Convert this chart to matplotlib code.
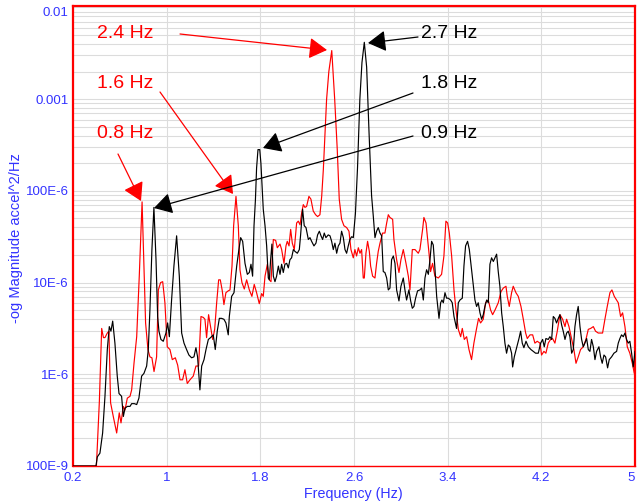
import numpy as np
import matplotlib
matplotlib.use("Agg")
import matplotlib.pyplot as plt
from matplotlib.ticker import LogLocator, NullFormatter

# ---------------- data ----------------
# frequency in Hz, log10 of PSD magnitude (accel^2/Hz)
red_freq = [0.20, 0.40, 0.425, 0.445, 0.46, 0.473, 0.493, 0.507, 0.521, 0.544, 0.573, 0.595, 0.610,
            0.630, 0.644, 0.664, 0.687, 0.701, 0.721, 0.744, 0.766, 0.790, 0.803, 0.820, 0.840, 0.857,
            0.874, 0.892, 0.914, 0.929, 0.948, 0.966, 0.985, 1.005, 1.028, 1.048, 1.074, 1.094, 1.114,
            1.136, 1.156, 1.176, 1.199, 1.227, 1.250, 1.273, 1.293, 1.313, 1.327, 1.341, 1.358, 1.375,
            1.393, 1.410, 1.427, 1.444, 1.458, 1.475, 1.489, 1.506, 1.526, 1.541, 1.558, 1.572, 1.592,
            1.612, 1.626, 1.643, 1.663, 1.683, 1.706, 1.728, 1.748, 1.768, 1.791, 1.811, 1.825, 1.840,
            1.860, 1.877, 1.891, 1.911, 1.931, 1.945, 1.968, 1.982, 2.002, 2.019, 2.030, 2.045, 2.059,
            2.073, 2.090, 2.110, 2.124, 2.139, 2.153, 2.167, 2.181, 2.195, 2.215, 2.232, 2.252, 2.272,
            2.289, 2.309, 2.324, 2.338, 2.366, 2.385, 2.410, 2.435, 2.457, 2.474, 2.494, 2.514, 2.537,
            2.557, 2.574, 2.594, 2.608, 2.622, 2.637, 2.651, 2.665, 2.679, 2.688, 2.702, 2.716, 2.731,
            2.742, 2.759, 2.779, 2.793, 2.807, 2.822, 2.844, 2.864, 2.879, 2.893, 2.907, 2.930, 2.941,
            2.964, 2.984, 3.001, 3.021, 3.044, 3.064, 3.078, 3.098, 3.121, 3.149, 3.163, 3.186, 3.197,
            3.215, 3.226, 3.243, 3.254, 3.271, 3.291, 3.320, 3.348, 3.368, 3.385, 3.400, 3.414, 3.434,
            3.454, 3.471, 3.491, 3.511, 3.525, 3.542, 3.562, 3.582, 3.604, 3.624, 3.647, 3.664, 3.681,
            3.704, 3.724, 3.747, 3.767, 3.784, 3.804, 3.832, 3.855, 3.875, 3.898, 3.909, 3.926, 3.946,
            3.960, 3.983, 4.003, 4.026, 4.046, 4.066, 4.080, 4.103, 4.126, 4.145, 4.165, 4.188, 4.202,
            4.222, 4.239, 4.259, 4.279, 4.296, 4.316, 4.336, 4.359, 4.382, 4.402, 4.416, 4.436, 4.459,
            4.478, 4.496, 4.515, 4.535, 4.558, 4.581, 4.601, 4.621, 4.644, 4.663, 4.686, 4.706, 4.723,
            4.743, 4.763, 4.786, 4.803, 4.823, 4.843, 4.857, 4.877, 4.894, 4.914, 4.934, 4.956, 4.977,
            4.994, 5.00]
red_log = [-7.0, -7.0, -6.30, -5.50, -5.60, -5.60, -5.55, -5.53, -6.31, -6.46, -6.64, -6.42, -6.53,
           -6.35, -6.39, -6.26, -6.24, -6.17, -5.88, -5.59, -4.93, -4.12, -4.71, -5.44, -5.73, -5.81,
           -5.82, -5.97, -5.81, -5.08, -5.00, -4.99, -5.22, -5.70, -5.73, -5.84, -5.82, -5.90, -6.06,
           -6.06, -5.95, -6.10, -6.06, -6.02, -5.91, -5.91, -5.37, -5.38, -5.40, -5.60, -5.35, -5.48,
           -5.62, -5.51, -5.22, -4.97, -4.97, -5.09, -5.24, -5.11, -5.09, -5.08, -4.82, -4.38, -4.06,
           -4.38, -4.86, -5.00, -5.07, -4.97, -5.08, -5.15, -5.02, -5.11, -5.23, -5.12, -5.15, -4.93,
           -4.80, -4.97, -4.99, -4.53, -4.54, -4.62, -4.58, -4.64, -4.79, -4.60, -4.55, -4.60, -4.42,
           -4.57, -4.64, -4.35, -4.33, -4.37, -4.24, -4.15, -4.18, -4.17, -4.06, -4.09, -4.22, -4.26,
           -4.28, -4.26, -4.06, -3.77, -3.00, -2.70, -2.47, -3.00, -3.55, -4.09, -4.31, -4.38, -4.40,
           -4.44, -4.64, -4.73, -4.64, -4.71, -4.62, -4.68, -4.64, -4.95, -4.95, -4.68, -4.55, -4.66,
           -4.82, -4.93, -4.95, -4.79, -4.66, -4.57, -4.46, -4.46, -4.35, -4.26, -4.29, -4.31, -4.53,
           -4.75, -4.89, -4.75, -4.64, -4.79, -4.93, -5.08, -4.64, -4.64, -4.68, -4.64, -4.42, -4.29,
           -4.35, -4.49, -4.71, -4.88, -4.79, -4.93, -4.95, -4.91, -4.71, -4.33, -4.35, -4.46, -4.71,
           -5.08, -5.30, -5.51, -5.59, -5.50, -5.62, -5.59, -5.73, -5.84, -5.66, -5.50, -5.39, -5.44,
           -5.40, -5.22, -5.19, -5.30, -5.35, -5.30, -5.22, -5.10, -5.06, -5.04, -5.15, -5.26, -5.11,
           -5.04, -5.11, -5.15, -5.26, -5.40, -5.55, -5.61, -5.57, -5.57, -5.66, -5.64, -5.66, -5.79,
           -5.75, -5.77, -5.66, -5.62, -5.61, -5.66, -5.53, -5.35, -5.40, -5.48, -5.40, -5.48, -5.62,
           -5.73, -5.88, -5.81, -5.73, -5.70, -5.62, -5.51, -5.50, -5.48, -5.53, -5.55, -5.55, -5.55,
           -5.40, -5.26, -5.11, -5.08, -5.15, -5.19, -5.22, -5.37, -5.33, -5.48, -5.70, -5.77, -5.88,
           -5.99, -5.95]

black_freq = [0.20, 0.396, 0.408, 0.430, 0.453, 0.473, 0.493, 0.510, 0.524, 0.539, 0.558, 0.578, 0.593,
              0.615, 0.630, 0.644, 0.664, 0.687, 0.701, 0.724, 0.744, 0.763, 0.786, 0.806, 0.829, 0.843,
              0.857, 0.874, 0.891, 0.909, 0.923, 0.934, 0.951, 0.971, 0.994, 1.008, 1.023, 1.042, 1.062,
              1.085, 1.108, 1.128, 1.148, 1.170, 1.190, 1.213, 1.233, 1.250, 1.264, 1.284, 1.299, 1.319,
              1.336, 1.356, 1.375, 1.398, 1.415, 1.432, 1.450, 1.469, 1.489, 1.506, 1.526, 1.535, 1.555,
              1.575, 1.598, 1.617, 1.632, 1.649, 1.669, 1.689, 1.706, 1.720, 1.734, 1.746, 1.758, 1.768,
              1.780, 1.795, 1.805, 1.815, 1.825, 1.840, 1.854, 1.868, 1.877, 1.888, 1.899, 1.911, 1.925,
              1.939, 1.954, 1.968, 1.982, 1.996, 2.010, 2.025, 2.039, 2.053, 2.067, 2.082, 2.096, 2.116,
              2.133, 2.144, 2.161, 2.175, 2.190, 2.210, 2.224, 2.238, 2.258, 2.275, 2.289, 2.304, 2.318,
              2.332, 2.346, 2.360, 2.380, 2.395, 2.409, 2.423, 2.437, 2.452, 2.466, 2.480, 2.494, 2.509,
              2.523, 2.537, 2.551, 2.565, 2.580, 2.594, 2.612, 2.630, 2.650, 2.668, 2.688, 2.708, 2.728,
              2.750, 2.765, 2.779, 2.793, 2.807, 2.822, 2.836, 2.850, 2.864, 2.879, 2.893, 2.907, 2.921,
              2.936, 2.950, 2.964, 2.984, 3.001, 3.021, 3.035, 3.049, 3.069, 3.084, 3.098, 3.112, 3.126,
              3.143, 3.163, 3.178, 3.192, 3.206, 3.220, 3.235, 3.249, 3.263, 3.277, 3.291, 3.306, 3.326,
              3.340, 3.351, 3.363, 3.377, 3.391, 3.405, 3.425, 3.439, 3.454, 3.476, 3.491, 3.505, 3.525,
              3.539, 3.553, 3.570, 3.585, 3.604, 3.619, 3.633, 3.647, 3.661, 3.676, 3.690, 3.704, 3.718,
              3.733, 3.747, 3.761, 3.775, 3.790, 3.804, 3.818, 3.832, 3.846, 3.861, 3.875, 3.889, 3.903,
              3.918, 3.932, 3.946, 3.955, 3.969, 3.989, 4.009, 4.023, 4.037, 4.051, 4.069, 4.089, 4.111,
              4.131, 4.151, 4.174, 4.194, 4.211, 4.225, 4.239, 4.259, 4.273, 4.288, 4.302, 4.316, 4.330,
              4.345, 4.359, 4.373, 4.387, 4.402, 4.416, 4.430, 4.444, 4.459, 4.473, 4.487, 4.501, 4.515,
              4.530, 4.544, 4.558, 4.572, 4.587, 4.601, 4.615, 4.629, 4.644, 4.658, 4.672, 4.692, 4.706,
              4.720, 4.735, 4.749, 4.766, 4.780, 4.800, 4.820, 4.843, 4.857, 4.871, 4.885, 4.900, 4.914,
              4.928, 4.942, 4.956, 4.971, 4.985, 5.00]
black_log = [-7.0, -7.0, -6.90, -6.86, -6.64, -6.24, -5.73, -5.48, -5.53, -5.42, -5.66, -6.02, -6.21,
             -6.24, -6.46, -6.37, -6.35, -6.35, -6.32, -6.32, -6.33, -6.26, -6.02, -5.99, -5.91, -5.73,
             -5.30, -4.64, -4.18, -4.75, -5.37, -5.53, -5.62, -5.64, -5.55, -5.44, -5.59, -5.19, -4.82,
             -4.49, -4.93, -5.55, -5.66, -5.73, -5.79, -5.82, -5.81, -5.71, -5.81, -6.17, -5.91, -5.84,
             -5.73, -5.62, -5.60, -5.57, -5.73, -5.53, -5.39, -5.39, -5.40, -5.44, -5.57, -5.37, -5.15,
             -5.11, -4.82, -4.64, -4.51, -4.55, -4.79, -4.91, -4.89, -4.80, -4.93, -4.38, -4.10, -3.75,
             -3.55, -3.55, -3.70, -3.95, -4.20, -4.38, -4.60, -4.95, -4.97, -4.75, -4.58, -4.93, -4.99,
             -4.93, -4.82, -4.91, -4.80, -4.89, -4.80, -4.79, -4.84, -4.75, -4.73, -4.64, -4.66, -4.68,
             -4.64, -4.48, -4.20, -4.38, -4.40, -4.53, -4.51, -4.55, -4.60, -4.57, -4.48, -4.44, -4.49,
             -4.53, -4.46, -4.51, -4.48, -4.49, -4.55, -4.64, -4.57, -4.68, -4.60, -4.57, -4.44, -4.51,
             -4.64, -4.68, -4.60, -4.53, -4.50, -4.51, -4.25, -3.75, -3.00, -2.60, -2.38, -2.65, -3.35,
             -4.05, -4.28, -4.51, -4.44, -4.40, -4.46, -4.49, -4.88, -4.89, -4.95, -5.08, -5.06, -4.75,
             -4.71, -4.79, -5.08, -5.20, -5.04, -4.95, -5.08, -5.19, -5.08, -5.20, -5.28, -5.26, -5.17,
             -5.09, -5.08, -5.06, -5.19, -4.95, -4.86, -4.91, -4.75, -4.55, -4.59, -4.84, -5.15, -5.39,
             -5.22, -5.19, -5.22, -5.11, -5.17, -5.17, -5.19, -5.22, -5.37, -5.50, -5.22, -5.19, -5.17,
             -4.82, -4.60, -4.55, -4.64, -4.86, -5.04, -5.19, -5.26, -5.22, -5.33, -5.40, -5.35, -5.26,
             -5.19, -5.22, -4.80, -4.73, -4.77, -4.73, -4.69, -4.88, -5.04, -5.33, -5.48, -5.66, -5.77,
             -5.68, -5.70, -5.77, -5.92, -5.81, -5.71, -5.61, -5.53, -5.66, -5.71, -5.64, -5.70, -5.73,
             -5.75, -5.77, -5.77, -5.66, -5.62, -5.70, -5.61, -5.62, -5.59, -5.62, -5.37, -5.39, -5.44,
             -5.39, -5.35, -5.46, -5.53, -5.62, -5.55, -5.53, -5.59, -5.77, -5.73, -5.48, -5.35, -5.26,
             -5.48, -5.62, -5.70, -5.66, -5.61, -5.73, -5.75, -5.62, -5.70, -5.84, -5.75, -5.70, -5.81,
             -5.88, -5.79, -5.81, -5.93, -5.84, -5.81, -5.77, -5.75, -5.66, -5.61, -5.57, -5.59, -5.55,
             -5.62, -5.66, -5.64, -5.77, -5.92, -5.75]

x_ticks = [0.2, 1, 1.8, 2.6, 3.4, 4.2, 5]
x_tick_labels = ["0.2", "1", "1.8", "2.6", "3.4", "4.2", "5"]
y_ticks = [1e-7, 1e-6, 1e-5, 1e-4, 1e-3, 1e-2]
y_tick_labels = ["100E-9", "1E-6", "10E-6", "100E-6", "0.001", "0.01"]

red_notes = ["2.4 Hz", "1.6 Hz", "0.8 Hz"]
black_notes = ["2.7 Hz", "1.8 Hz", "0.9 Hz"]

x_label = "Frequency (Hz)"
y_label = "-og Magnitude accel^2/Hz"

# ---------------- figure ----------------
W, H = 637, 504
fig = plt.figure(figsize=(W / 100, H / 100), dpi=100)
fig.patch.set_facecolor("white")
ax = fig.add_axes([73 / W, 38 / H, 562 / W, 460 / H])

BLUE = "#3333ff"
GRID = "#dcdcdc"

ax.set_yscale("log")
ax.set_xlim(0.2, 5.0)
ax.set_ylim(1e-7, 10 ** -1.984)

ax.plot(red_freq, 10 ** np.array(red_log), color="#ff0000", lw=0.85, zorder=3, clip_on=True)
ax.plot(black_freq, 10 ** np.array(black_log), color="black", lw=0.85, zorder=4, clip_on=True)

ax.set_xticks(x_ticks)
ax.set_xticklabels(x_tick_labels)
ax.set_yticks(y_ticks)
ax.set_yticklabels(y_tick_labels)
ax.yaxis.set_minor_locator(LogLocator(base=10, subs=np.arange(2, 10)))
ax.yaxis.set_minor_formatter(NullFormatter())

ax.grid(True, which="major", axis="both", color=GRID, lw=0.8, zorder=0)
ax.grid(True, which="minor", axis="y", color=GRID, lw=0.8, zorder=0)
ax.set_axisbelow(True)

ax.tick_params(axis="both", which="both", length=0, colors=BLUE, labelsize=9.5)
ax.tick_params(axis="x", pad=4.5)
ax.tick_params(axis="y", pad=3)
for lab in ax.get_xticklabels() + ax.get_yticklabels():
    lab.set_fontfamily("Liberation Sans")
    lab.set_color(BLUE)
for lab in ax.get_yticklabels():
    if lab.get_text() == "0.01":
        lab.set_verticalalignment("top")
for lab in ax.get_xticklabels():
    if lab.get_text() == "5":
        lab.set_horizontalalignment("right")

for side in ["left", "right", "top"]:
    ax.spines[side].set_color("#ff0000")
    ax.spines[side].set_linewidth(1.6)
ax.spines["bottom"].set_color("#ff0000")
ax.spines["bottom"].set_linewidth(1.0)

fig.text(353 / W, (H - 494) / H, x_label, color=BLUE, fontsize=10.3,
         family="Liberation Sans", ha="center", va="center")
fig.text(16 / W, (H - 238) / H, y_label, color=BLUE, fontsize=10.5,
         family="Liberation Sans", ha="center", va="center", rotation=90)

# ---------------- annotations ----------------
def fp(x, y):
    return (x, H - y)

red_text_pos = [(125, 33), (125, 83), (125, 133)]
red_arrows = [((180, 34), (327, 50)), ((160, 92), (233, 194)), ((118, 154), (141, 201))]
black_text_pos = [(449, 34), (449, 84), (449, 134)]
black_arrows = [((418, 37), (368, 43)), ((413, 93), (263, 148)), ((413, 136), (154, 208))]

astyle = "-|>,head_length=1.1,head_width=0.65"
for txt, pos, (tail, tip) in zip(red_notes, red_text_pos, red_arrows):
    fig.text(pos[0] / W, (H - pos[1]) / H, txt, color="#ff0000", fontsize=14,
             family="Liberation Sans", ha="center", va="center")
    ax.annotate("", xy=fp(*tip), xytext=fp(*tail), xycoords="figure pixels",
                textcoords="figure pixels",
                arrowprops=dict(arrowstyle=astyle, color="#ff0000", lw=0.9,
                                shrinkA=0, shrinkB=0, mutation_scale=10))
for txt, pos, (tail, tip) in zip(black_notes, black_text_pos, black_arrows):
    fig.text(pos[0] / W, (H - pos[1]) / H, txt, color="black", fontsize=14,
             family="Liberation Sans", ha="center", va="center")
    ax.annotate("", xy=fp(*tip), xytext=fp(*tail), xycoords="figure pixels",
                textcoords="figure pixels",
                arrowprops=dict(arrowstyle=astyle, color="black", lw=0.9,
                                shrinkA=0, shrinkB=0, mutation_scale=10))

fig.savefig("out.png", dpi=100)
